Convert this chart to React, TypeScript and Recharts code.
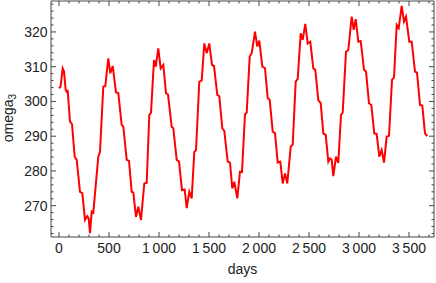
import React from 'react';
import { LineChart, Line, XAxis, YAxis, ReferenceArea } from 'recharts';

const days = [
  0, 15, 37, 50, 67, 77, 87, 110, 130, 157, 177, 210, 233, 260, 283, 297, 310, 327, 343, 393,
  410, 443, 463, 493, 513, 537, 570, 593, 627, 643, 677, 700, 727, 743, 770, 793, 820, 853, 877, 903,
  920, 950, 967, 993, 1017, 1043, 1070, 1090, 1127, 1143, 1177, 1200, 1230, 1257, 1277, 1303, 1327, 1353, 1370, 1403,
  1427, 1453, 1477, 1503, 1530, 1550, 1583, 1603, 1633, 1653, 1687, 1710, 1733, 1753, 1783, 1810, 1830, 1860, 1877, 1907,
  1927, 1960, 1983, 2003, 2033, 2060, 2087, 2107, 2137, 2160, 2187, 2213, 2237, 2260, 2283, 2317, 2337, 2367, 2387, 2417,
  2437, 2463, 2487, 2513, 2543, 2563, 2593, 2617, 2643, 2667, 2693, 2710, 2727, 2743, 2770, 2793, 2820, 2837, 2870, 2893,
  2927, 2947, 2967, 2993, 3017, 3050, 3070, 3100, 3123, 3153, 3177, 3203, 3227, 3250, 3277, 3300, 3330, 3350, 3377, 3397,
  3427, 3450, 3470, 3503, 3527, 3560, 3580, 3610, 3633, 3660, 3683,
];

const omega3 = [
  303.8, 304.2, 309.5, 308.6, 303.3, 302.8, 303.0, 294.2, 293.5, 284.1, 283.2, 274.0, 273.6, 265.9, 267.0, 266.3, 262.1, 268.3, 268.0, 284.1,
  285.5, 304.3, 304.4, 312.4, 308.1, 310.2, 302.6, 302.4, 293.2, 292.8, 283.2, 282.9, 274.0, 273.8, 266.8, 269.7, 265.9, 276.4, 276.6, 296.1,
  296.8, 311.9, 310.0, 315.3, 309.5, 310.5, 302.4, 302.0, 292.7, 292.3, 283.2, 282.7, 274.5, 274.6, 269.3, 274.0, 272.1, 285.5, 286.0, 305.7,
  306.0, 316.7, 313.9, 316.7, 310.5, 310.2, 301.9, 301.5, 292.3, 291.5, 282.7, 282.4, 275.0, 276.9, 272.1, 279.8, 279.7, 296.3, 296.8, 312.9,
  313.9, 320.1, 315.8, 317.5, 310.0, 309.6, 300.9, 300.5, 291.3, 290.9, 282.4, 282.7, 276.4, 279.3, 276.4, 287.0, 287.6, 305.7, 306.5, 319.6,
  317.7, 322.3, 316.7, 317.2, 309.5, 309.1, 300.4, 299.5, 290.8, 290.4, 282.7, 283.6, 283.2, 278.5, 284.1, 282.3, 296.1, 296.8, 314.3, 314.8,
  324.4, 320.6, 323.7, 317.2, 317.4, 309.1, 308.6, 299.5, 299.0, 290.8, 290.6, 284.1, 286.0, 282.4, 289.9, 290.1, 306.2, 306.9, 322.0, 321.1,
  327.5, 323.0, 324.4, 317.2, 317.2, 308.6, 308.3, 299.0, 298.8, 290.8, 290.0,
];

const xMajorTicks = [0, 500, 1000, 1500, 2000, 2500, 3000, 3500];
const xTickLabels = ['0', '500', '1\u2009000', '1\u2009500', '2\u2009000', '2\u2009500', '3\u2009000', '3\u2009500'];
const yMajorTicks = [270, 280, 290, 300, 310, 320];
const yTickLabels = ['270', '280', '290', '300', '310', '320'];

const xMinorStep = 100;
const yMinorStep = 2;
const X_DOMAIN: [number, number] = [-80, 3750];
const Y_DOMAIN: [number, number] = [261.0, 328.9];

const xTicks: number[] = [];
for (let v = 0; v <= 3700; v += xMinorStep) xTicks.push(v);
const yTicks: number[] = [];
for (let v = 262; v <= 328; v += yMinorStep) yTicks.push(v);

const data = days.map((d, i) => ({ day: d, omega: omega3[i] }));

const W = 436;
const H = 283;
const MARGIN = { top: 1, right: 2, bottom: 0, left: 0 };
const Y_AXIS_W = 51;
const X_AXIS_H = 46;
const PLOT_TOP = MARGIN.top;
const PLOT_RIGHT = W - MARGIN.right;
const FRAME = '#444';
const TEXT = '#222';
const FONT = '"Liberation Sans", Arial, sans-serif';

const XTick = (props: any) => {
  const { x, y, payload } = props;
  const idx = xMajorTicks.indexOf(payload.value);
  const major = idx >= 0;
  const len = major ? 5 : 2.5;
  return (
    <g>
      <line x1={x} x2={x} y1={y} y2={y - len} stroke={FRAME} strokeWidth={1} />
      <line x1={x} x2={x} y1={PLOT_TOP} y2={PLOT_TOP + len} stroke={FRAME} strokeWidth={1} />
      {major && (
        <text x={x} y={y + 16} textAnchor="middle" fontSize={14} fill={TEXT} fontFamily={FONT}>
          {xTickLabels[idx]}
        </text>
      )}
    </g>
  );
};

const YTick = (props: any) => {
  const { x, y, payload } = props;
  const idx = yMajorTicks.indexOf(payload.value);
  const major = idx >= 0;
  const len = major ? 5 : 2.5;
  return (
    <g>
      <line x1={x} x2={x + len} y1={y} y2={y} stroke={FRAME} strokeWidth={1} />
      <line x1={PLOT_RIGHT} x2={PLOT_RIGHT - len} y1={y} y2={y} stroke={FRAME} strokeWidth={1} />
      {major && (
        <text x={x - 3.5} y={y + 5} textAnchor="end" fontSize={14} fill={TEXT} fontFamily={FONT}>
          {yTickLabels[idx]}
        </text>
      )}
    </g>
  );
};

const XTitle = (props: any) => {
  const vb = props.viewBox || {};
  return (
    <text x={vb.x + vb.width / 2} y={274} textAnchor="middle" fontSize={14} fill={TEXT} fontFamily={FONT}>
      days
    </text>
  );
};

const YTitle = (props: any) => {
  const vb = props.viewBox || {};
  const cy = vb.y + vb.height / 2 - 1;
  const cx = 12.7;
  return (
    <text
      x={cx}
      y={cy}
      transform={`rotate(-90, ${cx}, ${cy})`}
      textAnchor="middle"
      fontSize={14}
      fill={TEXT}
      fontFamily={FONT}
    >
      omega
      <tspan fontSize={10} dy={3}>3</tspan>
    </text>
  );
};

export default function App() {
  return (
    <div style={{ position: 'absolute', left: 0, top: 0, width: W, height: H, background: '#fff' }}>
      <LineChart width={W} height={H} data={data} margin={MARGIN}>
        <XAxis
          dataKey="day"
          type="number"
          domain={X_DOMAIN}
          allowDataOverflow
          ticks={xTicks}
          interval={0}
          tickSize={0}
          tickMargin={0}
          tickLine={false}
          axisLine={false}
          height={X_AXIS_H}
          tick={<XTick />}
          label={<XTitle />}
        />
        <YAxis
          type="number"
          domain={Y_DOMAIN}
          allowDataOverflow
          ticks={yTicks}
          interval={0}
          tickSize={0}
          tickMargin={0}
          tickLine={false}
          axisLine={false}
          width={Y_AXIS_W}
          tick={<YTick />}
          label={<YTitle />}
        />
        <ReferenceArea
          x1={X_DOMAIN[0]}
          x2={X_DOMAIN[1]}
          y1={Y_DOMAIN[0]}
          y2={Y_DOMAIN[1]}
          fill="none"
          fillOpacity={0}
          stroke={FRAME}
          strokeWidth={1}
          ifOverflow="visible"
        />
        <Line
          type="linear"
          dataKey="omega"
          stroke="#ff0000"
          strokeWidth={2}
          dot={false}
          isAnimationActive={false}
        />
      </LineChart>
    </div>
  );
}
